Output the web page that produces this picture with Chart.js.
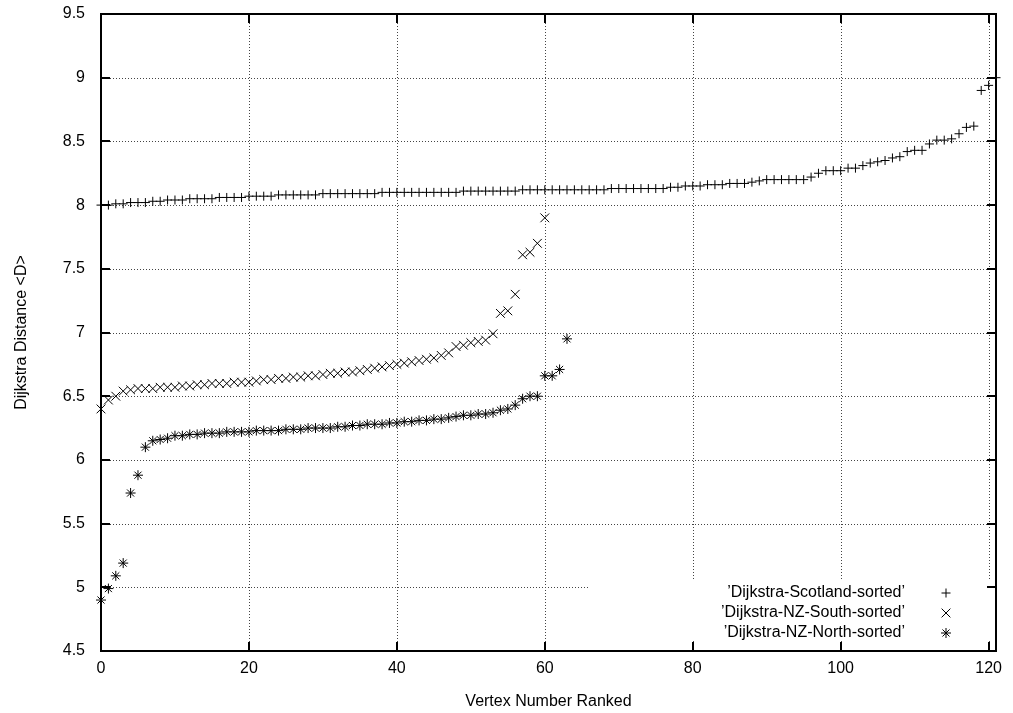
<!DOCTYPE html>
<html>
<head>
<meta charset="utf-8">
<script src="https://cdn.jsdelivr.net/npm/chart.js@4"></script>
<style>
  html, body { margin: 0; padding: 0; background: #fff; }
  #wrap { width: 1013px; height: 713px; }
</style>
</head>
<body>
<div id="wrap"><canvas id="chart"></canvas></div>
<script>
// values, index = vertex rank
const scotland = [
  8.00, 8.00, 8.01, 8.01, 8.02, 8.02, 8.02, 8.03, 8.03, 8.04,
  8.04, 8.04, 8.05, 8.05, 8.05, 8.05, 8.06, 8.06, 8.06, 8.06,
  8.07, 8.07, 8.07, 8.07, 8.08, 8.08, 8.08, 8.08, 8.08, 8.08,
  8.09, 8.09, 8.09, 8.09, 8.09, 8.09, 8.09, 8.09, 8.10, 8.10,
  8.10, 8.10, 8.10, 8.10, 8.10, 8.10, 8.10, 8.10, 8.10, 8.11,
  8.11, 8.11, 8.11, 8.11, 8.11, 8.11, 8.11, 8.12, 8.12, 8.12,
  8.12, 8.12, 8.12, 8.12, 8.12, 8.12, 8.12, 8.12, 8.12, 8.13,
  8.13, 8.13, 8.13, 8.13, 8.13, 8.13, 8.13, 8.14, 8.14, 8.15,
  8.15, 8.15, 8.16, 8.16, 8.16, 8.17, 8.17, 8.17, 8.18, 8.19,
  8.20, 8.20, 8.20, 8.20, 8.20, 8.20, 8.22, 8.25, 8.27, 8.27,
  8.27, 8.29, 8.29, 8.31, 8.33, 8.34, 8.35, 8.37, 8.38, 8.42,
  8.43, 8.43, 8.48, 8.51, 8.51, 8.52, 8.56, 8.61, 8.62, 8.90,
  8.94, 9.00
];
const nzSouth = [
  6.40, 6.47, 6.50, 6.54, 6.55, 6.56, 6.56, 6.56, 6.57, 6.57,
  6.57, 6.58, 6.58, 6.59, 6.59, 6.60, 6.60, 6.60, 6.61, 6.61,
  6.61, 6.62, 6.63, 6.63, 6.64, 6.64, 6.65, 6.65, 6.66, 6.66,
  6.67, 6.68, 6.68, 6.69, 6.69, 6.70, 6.71, 6.72, 6.73, 6.74,
  6.75, 6.76, 6.77, 6.78, 6.79, 6.80, 6.82, 6.84, 6.89, 6.90,
  6.92, 6.93, 6.94, 6.99, 7.15, 7.17, 7.30, 7.61, 7.63, 7.70,
  7.90
];
const nzNorth = [
  4.90, 4.99, 5.09, 5.19, 5.74, 5.88, 6.10, 6.15, 6.16, 6.17,
  6.19, 6.19, 6.20, 6.20, 6.21, 6.21, 6.21, 6.22, 6.22, 6.22,
  6.22, 6.23, 6.23, 6.23, 6.23, 6.24, 6.24, 6.24, 6.25, 6.25,
  6.25, 6.25, 6.26, 6.26, 6.27, 6.27, 6.28, 6.28, 6.28, 6.29,
  6.29, 6.30, 6.30, 6.31, 6.31, 6.32, 6.32, 6.33, 6.34, 6.35,
  6.35, 6.36, 6.36, 6.37, 6.39, 6.40, 6.43, 6.48, 6.50, 6.50,
  6.66, 6.66, 6.71, 6.95
];
const seriesNames = ["’Dijkstra-Scotland-sorted’", "’Dijkstra-NZ-South-sorted’", "’Dijkstra-NZ-North-sorted’"];
const markers = ["cross", "crossRot", "star"];
const xTicks = [0, 20, 40, 60, 80, 100, 120];
const yTicks = [4.5, 5, 5.5, 6, 6.5, 7, 7.5, 8, 8.5, 9, 9.5];

const FONT = "'Liberation Sans', Arial, Helvetica, sans-serif";
const toPoints = (arr) => arr.map((v, i) => ({ x: i, y: v }));

const pointSize = { cross: 4.5, crossRot: 6.2, star: 5 };

// gnuplot look: dotted grid, frame, inward ticks on all sides, key inside bottom right
const frame = {
  id: "frame",
  beforeDatasetsDraw(chart) {
    const { ctx, chartArea: a, scales } = chart;
    ctx.save();
    ctx.strokeStyle = "#444";
    ctx.lineWidth = 1;
    ctx.setLineDash([1, 2]);
    ctx.beginPath();
    yTicks.forEach((v) => {
      const py = Math.round(scales.y.getPixelForValue(v)) + 0.5;
      ctx.moveTo(a.left, py); ctx.lineTo(a.right, py);
    });
    xTicks.forEach((v) => {
      const px = Math.round(scales.x.getPixelForValue(v)) + 0.5;
      ctx.moveTo(px, a.top); ctx.lineTo(px, a.bottom);
    });
    ctx.stroke();
    ctx.setLineDash([]);
    // opaque key box
    ctx.fillStyle = "#fff";
    ctx.fillRect(590, a.bottom - 71, a.right - 590, 61);
    ctx.restore();
  },
  afterDraw(chart) {
    const { ctx, chartArea: a, scales } = chart;
    const sx = scales.x, sy = scales.y;
    ctx.save();

    ctx.strokeStyle = "#000";
    ctx.lineWidth = 2;
    ctx.strokeRect(a.left, a.top, a.right - a.left, a.bottom - a.top);

    ctx.beginPath();
    yTicks.forEach((v) => {
      const py = Math.round(sy.getPixelForValue(v));
      ctx.moveTo(a.left, py); ctx.lineTo(a.left + 9, py);
      ctx.moveTo(a.right, py); ctx.lineTo(a.right - 9, py);
    });
    xTicks.forEach((v) => {
      const px = Math.round(sx.getPixelForValue(v));
      ctx.moveTo(px, a.bottom); ctx.lineTo(px, a.bottom - 9);
      ctx.moveTo(px, a.top); ctx.lineTo(px, a.top + 9);
    });
    ctx.stroke();

    ctx.fillStyle = "#000";
    ctx.font = "16px " + FONT;
    ctx.textAlign = "right";
    ctx.textBaseline = "middle";
    seriesNames.forEach((name, i) => {
      const ly = 593 + i * 20;
      ctx.fillText(name, 905, ly);
      ctx.lineWidth = 1;
      Chart.helpers.drawPoint(ctx, { pointStyle: markers[i], radius: pointSize[markers[i]], rotation: 0, borderWidth: 1 }, 946, ly);
    });
    ctx.restore();
  }
};

const datasets = [scotland, nzSouth, nzNorth].map((arr, i) => ({
  label: seriesNames[i],
  data: toPoints(arr),
  showLine: false,
  clip: false,
  pointStyle: markers[i],
  pointRadius: pointSize[markers[i]],
  pointBorderWidth: 1,
  pointBorderColor: "#000",
  pointBackgroundColor: "#000",
  pointHoverRadius: pointSize[markers[i]]
}));

new Chart(document.getElementById("chart"), {
  type: "scatter",
  data: { datasets },
  options: {
    animation: false,
    responsive: true,
    maintainAspectRatio: false,
    events: [],
    layout: { padding: { top: 14, right: 17, bottom: 0, left: 0 } },
    plugins: {
      legend: { display: false },
      tooltip: { enabled: false }
    },
    scales: {
      x: {
        type: "linear",
        min: 0,
        max: 121,
        afterBuildTicks: (s) => { s.ticks = xTicks.map((v) => ({ value: v })); },
        afterFit: (s) => { s.height = 62; s.paddingLeft = 0; s.paddingRight = 0; },
        grid: { display: false, drawTicks: false },
        border: { display: false },
        ticks: { color: "#000", padding: 8, maxRotation: 0, font: { family: FONT, size: 16 } },
        title: {
          display: true,
          text: "Vertex Number Ranked",
          color: "#000",
          padding: { top: 0, bottom: 2 },
          font: { family: FONT, size: 16 }
        }
      },
      y: {
        min: 4.5,
        max: 9.5,
        afterBuildTicks: (s) => { s.ticks = yTicks.map((v) => ({ value: v })); },
        afterFit: (s) => { s.width = 101; s.paddingTop = 0; s.paddingBottom = 0; },
        grid: { display: false, drawTicks: false },
        border: { display: false },
        ticks: { color: "#000", padding: 16, font: { family: FONT, size: 16 }, callback: (v) => String(v) },
        title: {
          display: true,
          text: "Dijkstra Distance <D>",
          color: "#000",
          padding: { top: 12, bottom: 0 },
          font: { family: FONT, size: 16 }
        }
      }
    }
  },
  plugins: [frame]
});
</script>
</body>
</html>
